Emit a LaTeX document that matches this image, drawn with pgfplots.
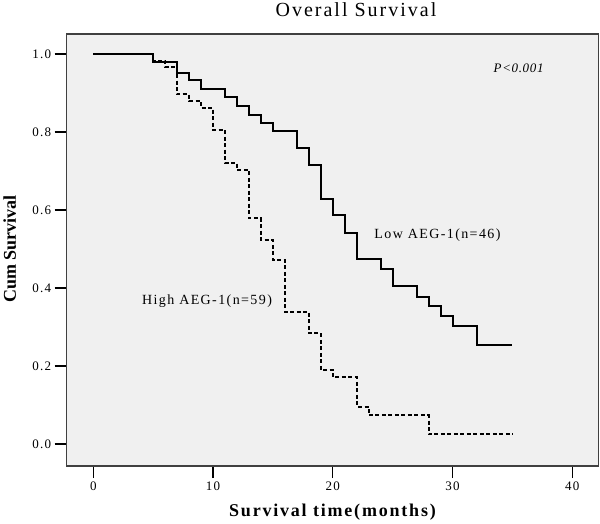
\documentclass[border=0pt]{standalone}
\usepackage{fontspec}
\setmainfont{Liberation Serif}
\usepackage{pgfplots}
\pgfplotsset{compat=1.18}
\definecolor{axbg}{HTML}{F0F0F0}
\definecolor{axline}{HTML}{404040}
\begin{document}
\begin{tikzpicture}
\begin{axis}[
  at={(0,0)}, anchor=south west,
  width=532pt, height=432pt, scale only axis,
  xmin=-2.22, xmax=42.2, ymin=-0.056, ymax=1.051,
  axis background/.style={fill=axbg},
  axis line style={draw=axline, line width=1.3pt},
  xtick={0,10,20,30,40},
  ytick={0,0.2,0.4,0.6,0.8,1.0},
  tick align=outside, tick pos=left,
  major tick length=12pt,
  tick style={black, line width=1.3pt},
  yticklabel style={/pgf/number format/.cd, fixed, fixed zerofill, precision=1, /tikz/.cd},
  ticklabel style={font=\fontsize{13}{15}\selectfont\addfontfeatures{LetterSpace=10}},
  /pgf/number format/assume math mode=true,
]
\addplot[const plot, black, line width=2pt] coordinates {
(0,1.0) (5,0.978) (7,0.952) (8,0.932) (9,0.909) (11,0.889) (12,0.867) (13,0.844)
(14,0.822) (15,0.803) (17,0.760) (18,0.715) (19,0.628) (20,0.586) (21,0.542)
(22,0.474) (24,0.450) (25,0.406) (27,0.378) (28,0.355) (29,0.328) (30,0.303)
(32,0.254) (35,0.254)};
\addplot[const plot, black, line width=2pt, dash pattern=on 4pt off 2.5pt] coordinates {
(0,1.0) (5,0.983) (6,0.966) (7,0.896) (8,0.879) (9,0.861) (10,0.805) (11,0.720)
(12,0.703) (13,0.579) (14,0.523) (15,0.472) (16,0.339) (18,0.284) (19,0.190)
(20,0.171) (22,0.096) (23,0.074) (28,0.025) (35,0.025)};
\node[font=\fontsize{14}{16}\selectfont\addfontfeatures{LetterSpace=10}] at (axis cs:28.74,0.536) {Low AEG-1(n=46)};
\node[font=\fontsize{14}{16}\selectfont\addfontfeatures{LetterSpace=10}] at (axis cs:9.50,0.367) {High AEG-1(n=59)};
\node[anchor=east, font=\fontsize{13}{15}\selectfont\itshape\addfontfeatures{LetterSpace=5}] at (axis cs:37.89,0.962) {P<0.001};
\end{axis}
\node[font=\fontsize{20}{24}\selectfont\addfontfeatures{LetterSpace=10}] at ([shift={(289.3pt,456pt)}]current axis.south west) {Overall Survival};
\node[rotate=90, font=\fontsize{18}{21}\selectfont\bfseries] at ([shift={(-57pt,217pt)}]current axis.south west) {Cum Survival};
\node[font=\fontsize{18}{21}\selectfont\bfseries\addfontfeatures{LetterSpace=10}] at ([shift={(265.8pt,-46pt)}]current axis.south west) {Survival time(months)};
\pgfresetboundingbox
\path ([shift={(-66.7pt,-57pt)}]current axis.south west) rectangle ++(600pt,523pt);
\end{tikzpicture}
\end{document}
